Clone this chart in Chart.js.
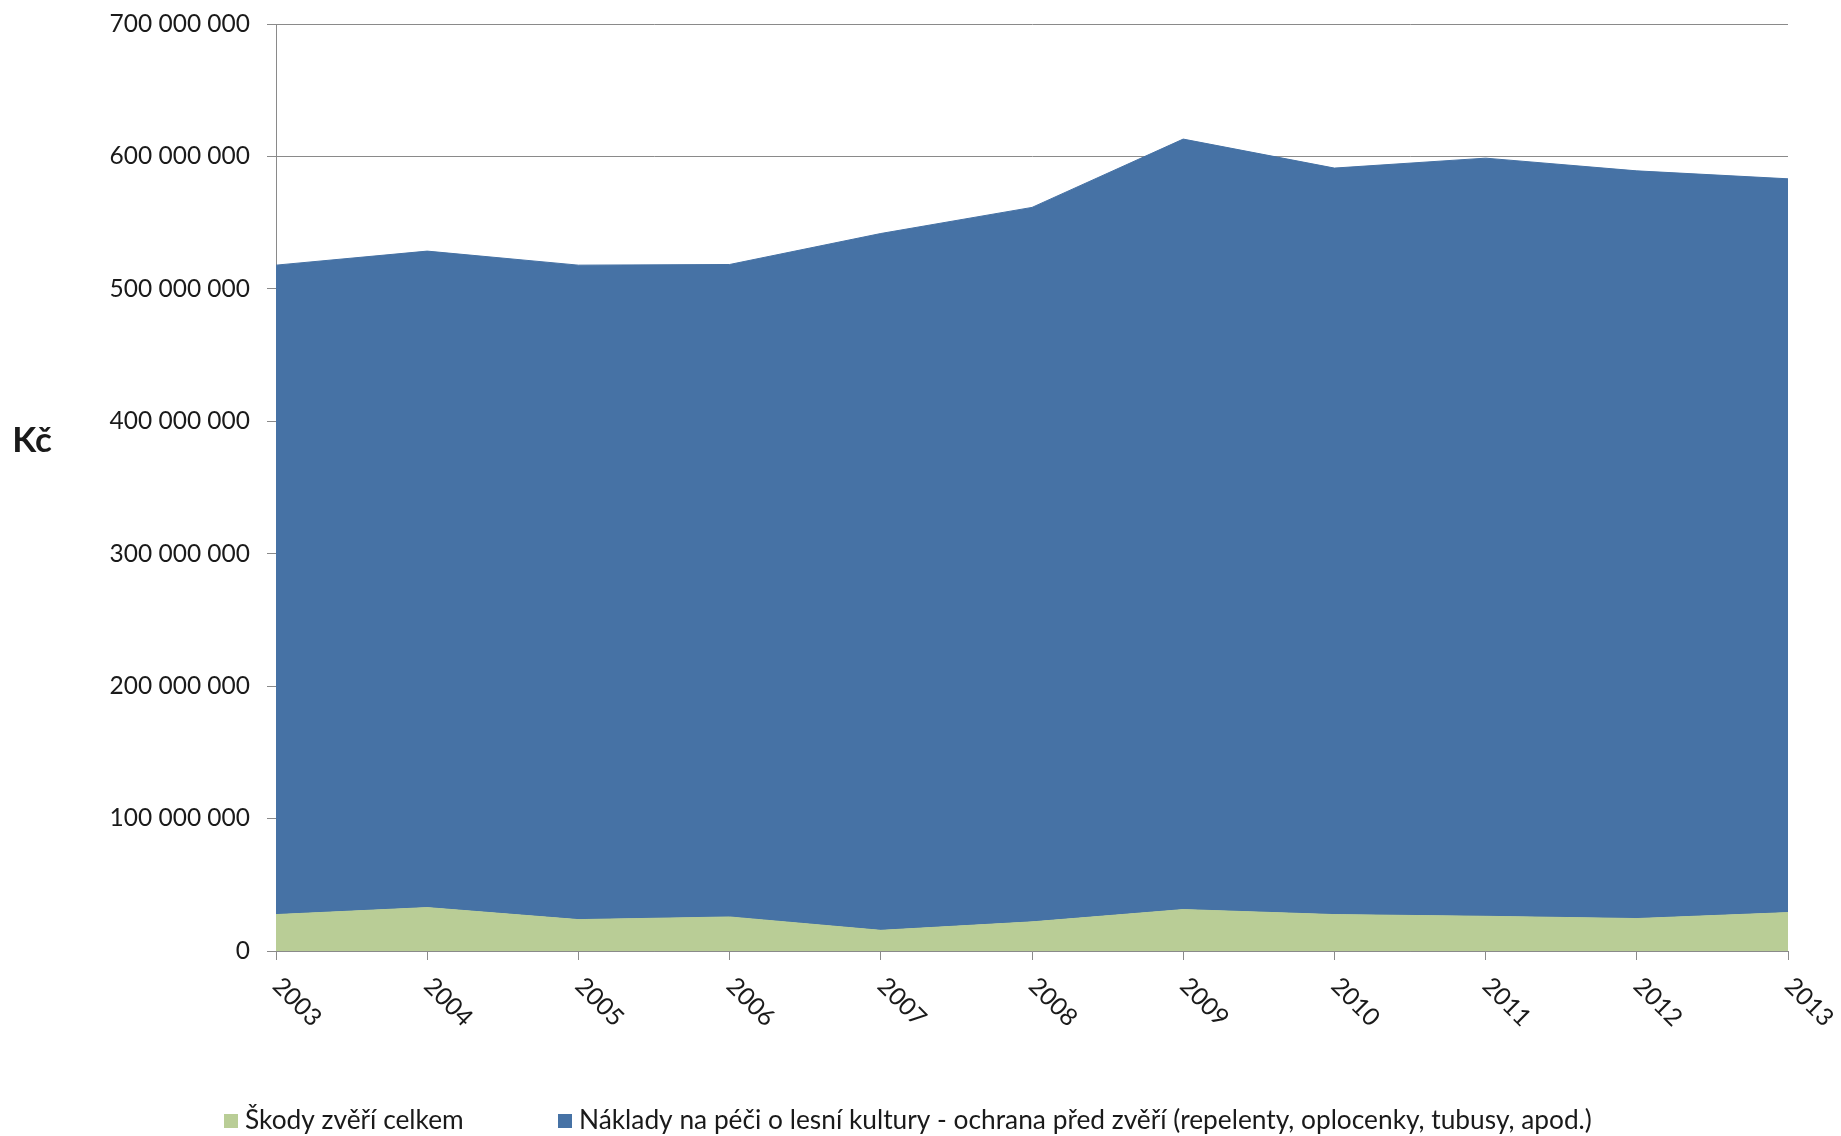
<!DOCTYPE html>
<html>
<head>
<meta charset="utf-8">
<script src="https://cdn.jsdelivr.net/npm/chart.js@4"></script>
<style>
  html, body { margin: 0; padding: 0; background: #fff; }
  #wrap { width: 1841px; height: 1136px; position: relative; }
</style>
</head>
<body>
<div id="wrap"><canvas id="c" width="1841" height="1136"></canvas></div>
<script>
const years = ['2003','2004','2005','2006','2007','2008','2009','2010','2011','2012','2013'];
const skodyLabel = 'Škody zvěří celkem';
const nakladyLabel = 'Náklady na péči o lesní kultury - ochrana před zvěří (repelenty, oplocenky, tubusy, apod.)';
const skody = [27500000, 32800000, 23700000, 25700000, 15600000, 22000000, 31300000, 27500000, 26200000, 24500000, 29000000];
const naklady = [490400000, 495700000, 494200000, 492700000, 526200000, 539500000, 581800000, 563700000, 572500000, 564600000, 554100000];
const yTitle = 'Kč';

const GREEN = '#B9CD96';
const BLUE = '#4672A5';
const GRID = '#8a8a8a';
const TEXT = '#1a1a1a';
const FONT = 'Lato';

function fmt(v) {
  return String(Math.round(v)).replace(/\B(?=(\d{3})+(?!\d))/g, ' ');
}

const extras = {
  id: 'extras',
  afterDraw(chart) {
    const ctx = chart.ctx;
    const xs = chart.scales.x;
    ctx.save();
    ctx.fillStyle = TEXT;
    // rotated x labels
    ctx.font = '24.5px ' + FONT;
    ctx.textAlign = 'center';
    ctx.textBaseline = 'middle';
    years.forEach((lab, i) => {
      const x = xs.getPixelForValue(i);
      ctx.save();
      ctx.translate(x + 21, xs.top + 51);
      ctx.rotate(Math.PI / 4);
      ctx.fillText(lab, 0, 0);
      ctx.restore();
    });
    // y title (horizontal)
    ctx.font = 'bold 35px ' + FONT;
    ctx.textAlign = 'center';
    ctx.textBaseline = 'alphabetic';
    ctx.fillText(yTitle, 32, 452);
    // legend
    const ds = chart.data.datasets;
    const items = [{ds: ds[0], bx: 224}, {ds: ds[1], bx: 558}];
    ctx.font = '26.3px ' + FONT;
    ctx.textAlign = 'left';
    ctx.textBaseline = 'middle';
    items.forEach(it => {
      ctx.fillStyle = it.ds.backgroundColor;
      ctx.fillRect(it.bx, 1114, 14, 14);
      ctx.fillStyle = TEXT;
      ctx.fillText(it.ds.label, it.bx + 21, 1121);
    });
    ctx.restore();
  }
};

new Chart(document.getElementById('c'), {
  type: 'line',
  data: {
    labels: years,
    datasets: [
      { label: skodyLabel, data: skody, backgroundColor: GREEN, borderColor: GREEN, borderWidth: 1, fill: 'origin', pointRadius: 0, tension: 0 },
      { label: nakladyLabel, data: naklady, backgroundColor: BLUE, borderColor: BLUE, borderWidth: 1, fill: '-1', pointRadius: 0, tension: 0 }
    ]
  },
  options: {
    responsive: false,
    animation: false,
    layout: { autoPadding: false, padding: { left: 0, right: 53, top: 24, bottom: 0 } },
    plugins: { legend: { display: false }, tooltip: { enabled: false }, title: { display: false } },
    scales: {
      x: {
        offset: false,
        grid: { drawOnChartArea: false, drawTicks: true, tickLength: 9, color: GRID, lineWidth: 1 },
        border: { color: GRID, width: 1 },
        ticks: { display: false },
        afterFit(scale) { scale.height = 185; scale.paddingLeft = 0; scale.paddingRight = 0; }
      },
      y: {
        stacked: true,
        min: 0,
        max: 700000000,
        grid: { color: GRID, lineWidth: 1, tickLength: 9 },
        border: { color: GRID, width: 1 },
        ticks: {
          stepSize: 100000000,
          padding: 17,
          color: TEXT,
          font: { family: FONT, size: 24.5 },
          callback: (v) => fmt(v)
        },
        afterFit(scale) { scale.width = 276; scale.paddingTop = 0; scale.paddingBottom = 0; }
      }
    }
  },
  plugins: [extras]
});
</script>
</body>
</html>
